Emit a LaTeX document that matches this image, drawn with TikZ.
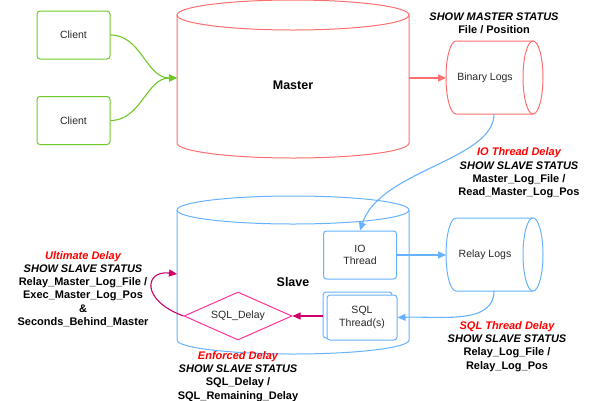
\documentclass[tikz,border=0pt]{standalone}
\usepackage{fontspec}
\setmainfont{Liberation Sans}
\usetikzlibrary{shapes.geometric,arrows.meta}
\definecolor{cgreen}{RGB}{110,200,40}
\definecolor{cred}{RGB}{255,110,110}
\definecolor{cblue}{RGB}{102,178,255}
\definecolor{cpink}{RGB}{255,51,153}
\definecolor{cmag}{RGB}{204,0,102}
\definecolor{ctxt}{RGB}{40,40,40}
\definecolor{hred}{RGB}{255,0,0}
\begin{document}
\begin{tikzpicture}[x=1pt,y=1pt,
  box/.style={draw,rounded corners=3pt,line width=1pt,minimum width=73pt,minimum height=48pt,inner sep=0pt,align=center,font=\fontsize{10.5}{12.5}\selectfont,text=ctxt},
  lbl/.style={align=center,font=\fontsize{11}{13.3}\selectfont\bfseries,text=black},
  conn/.style={line width=1.1pt,-{Triangle[length=8pt,width=7pt]}},
  hd/.style={text=hred},
]
\useasboundingbox (0,0) rectangle (600,-400);
% clients
\node[box,draw=cgreen] (c1) at (73.5,-35) {Client};
\node[box,draw=cgreen] (c2) at (73.5,-120.5) {Client};
% master cylinder
\draw[cred,line width=1pt] (177,-15) -- (177,-143) arc[start angle=180,end angle=360,x radius=116pt,y radius=15pt] -- (409,-15);
\draw[cred,line width=1pt] (293,-15) ellipse[x radius=116pt,y radius=15pt];
\node[font=\fontsize{12.5}{14}\selectfont\bfseries] (master) at (293,-85) {Master};
\coordinate (mL) at (177,-78);
\coordinate (mR) at (409,-78);
% binary logs
\draw[cred,line width=1pt] (533,-41) -- (456,-41) arc[start angle=90,end angle=270,x radius=10pt,y radius=36.5pt] -- (533,-114);
\draw[cred,line width=1pt] (533,-77.5) ellipse[x radius=10pt,y radius=36.5pt];
\node[font=\fontsize{10.5}{12.5}\selectfont,text=ctxt] (binlog) at (485,-78) {Binary Logs};
\coordinate (bL) at (446,-78);
\coordinate (bB) at (494,-114);
% slave cylinder
\draw[cblue,line width=1pt] (177,-210) -- (177,-340) arc[start angle=180,end angle=360,x radius=116pt,y radius=14pt] -- (409,-210);
\draw[cblue,line width=1pt] (293,-210) ellipse[x radius=116pt,y radius=14pt];
\node[font=\fontsize{12.5}{14}\selectfont\bfseries] (slave) at (293,-282) {Slave};
\coordinate (sL) at (177,-274);
% relay logs
\draw[cblue,line width=1pt] (533,-218) -- (456,-218) arc[start angle=90,end angle=270,x radius=10pt,y radius=36.5pt] -- (533,-291);
\draw[cblue,line width=1pt] (533,-254.5) ellipse[x radius=10pt,y radius=36.5pt];
\node[font=\fontsize{10.5}{12.5}\selectfont,text=ctxt] (relay) at (485,-255) {Relay Logs};
\coordinate (rL) at (446,-255);
\coordinate (rB) at (494,-291);
% IO thread
\node[box,draw=cblue,fill=white] (io) at (360,-255) {IO\\Thread};
% SQL threads
\node[box,draw=cblue,fill=white,minimum width=69pt,minimum height=46pt] (sqlback) at (357.5,-315) {};
\node[box,draw=cblue,fill=white,minimum width=70pt,minimum height=45pt] (sqlthr) at (362,-317.5) {SQL\\Thread(s)};
\coordinate (sqW) at (323,-316);
% diamond
\node[diamond,draw=cpink,line width=1pt,aspect=2.25,minimum width=108pt,minimum height=48pt,inner sep=0pt,font=\fontsize{10.5}{12.5}\selectfont,text=ctxt] (delay) at (238,-316) {SQL\_Delay};
% connectors
\draw[conn,cgreen] (c1.east) to[out=0,in=180] (mL);
\draw[conn,cgreen] (c2.east) to[out=0,in=180] (mL);
\draw[conn,cred] (mR) -- (bL);
\draw[conn,cblue] (bB) .. controls (494,-160) and (380,-170) .. (io.north);
\draw[conn,cblue] (io.east) -- (rL);
\draw[conn,cblue] (rB) .. controls (494,-325) and (440,-316) .. (sqlthr.east);
\draw[conn,cmag] (sqW) -- (delay.east);
\draw[conn,cmag] (delay.west) .. controls (140,-300) and (145,-270) .. (sL);
% labels
\node[lbl] (l1) at (494,-23) {\itshape SHOW MASTER STATUS\\File / Position};
\node[lbl] (l2) at (519,-173) {{\itshape\color{hred} IO Thread Delay}\\\itshape SHOW SLAVE STATUS\\Master\_Log\_File /\\Read\_Master\_Log\_Pos};
\node[lbl] (l3) at (507,-346.5) {{\itshape\color{hred} SQL Thread Delay}\\\itshape SHOW SLAVE STATUS\\Relay\_Log\_File /\\Relay\_Log\_Pos};
\node[lbl] (l4) at (83,-289) {{\itshape\color{hred} Ultimate Delay}\\\itshape SHOW SLAVE STATUS\\Relay\_Master\_Log\_File /\\Exec\_Master\_Log\_Pos\\\&\\Seconds\_Behind\_Master};
\node[lbl] (l5) at (238,-376.5) {{\itshape\color{hred} Enforced Delay}\\\itshape SHOW SLAVE STATUS\\SQL\_Delay /\\SQL\_Remaining\_Delay};
\end{tikzpicture}
\end{document}
